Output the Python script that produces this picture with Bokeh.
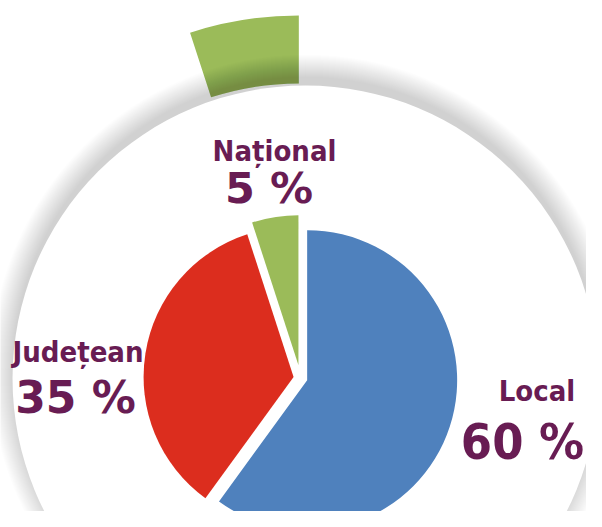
import numpy as np
from bokeh.plotting import figure
from bokeh.models import Range1d
from bokeh.embed import file_html
from bokeh.resources import INLINE
from bokeh.core.properties import value

# ---- data ----
categories = ["Local", "Județean", "Național"]
values = [60, 35, 5]
value_labels = ["60 %", "35 %", "5 %"]
highlight = "Național"

# ---- style / layout ----
colors = ["#4f81bd", "#dc2d1e", "#9bbb59"]
text_color = "#681c53"
cond = "'DejaVu Sans Condensed', 'DejaVu Sans'"
wide = "'DejaVu Sans'"
explode = [7, 7, 13]
PIE_X, PIE_Y, PIE_R = 300, 377.5, 150          # image pixel coords
DISK_X, DISK_Y, DISK_R = 305, 378, 293
RING_IN, RING_OUT, RING_EXPLODE = 284, 352, 10.7
BASELINE_FIX = 0.40   # renderer places alphabetic baseline lower; compensate
# label anchors (image px): name (x, baseline y, size, font), value (x, baseline y, size, font)
label_layout = {
    "Local":    ((536.5, 402, 29, cond), (522, 461, 50, cond)),
    "Județean": ((77.5, 363, 29, cond), (75, 415, 44, wide)),
    "Național": ((274, 162, 29, cond), (268.5, 205, 43, wide)),
}

W, H = 586, 511
p = figure(width=W, height=H, x_range=Range1d(0, W), y_range=Range1d(-H, 0),
           output_backend="svg", toolbar_location=None, min_border=0,
           x_axis_location=None, y_axis_location=None)
p.grid.visible = False
p.outline_line_color = None
p.background_fill_color = "white"
p.border_fill_color = "white"

def Y(y):
    return -y

vals = np.array(values, dtype=float)
ends = np.cumsum(vals) / vals.sum() * 360.0
starts = ends - vals / vals.sum() * 360.0
mids = (starts + ends) / 2

# outer highlighted ring segment
hi = categories.index(highlight)
m = np.radians(mids[hi])
rx = PIE_X + RING_EXPLODE * np.sin(m)
ry = PIE_Y - RING_EXPLODE * np.cos(m)
p.annular_wedge(x=rx, y=Y(ry), inner_radius=RING_IN, outer_radius=RING_OUT,
                start_angle=np.radians(90 - ends[hi]), end_angle=np.radians(90 - starts[hi]),
                fill_color=colors[hi], line_color=None)

# soft shadow of the white disk
shadow_shift = 9
for k in range(22, -1, -1):
    p.circle(x=DISK_X, y=Y(DISK_Y - shadow_shift), radius=DISK_R + k,
             fill_color="black", fill_alpha=0.0095, line_color=None)
p.circle(x=DISK_X, y=Y(DISK_Y), radius=DISK_R, fill_color="white", line_color=None)

# pie slices
for i, cat in enumerate(categories):
    a = np.radians(mids[i])
    cx = PIE_X + explode[i] * np.sin(a)
    cy = PIE_Y - explode[i] * np.cos(a)
    p.wedge(x=cx, y=Y(cy), radius=PIE_R,
            start_angle=np.radians(90 - ends[i]), end_angle=np.radians(90 - starts[i]),
            fill_color=colors[i], line_color=None)

# labels
for i, cat in enumerate(categories):
    for txt, (tx, ty, ts, tf) in zip([cat, value_labels[i]], label_layout[cat]):
        p.text(x=[tx], y=[Y(ty - BASELINE_FIX * ts)], text=[txt], text_font=value(tf),
               text_font_style="bold", text_font_size=f"{ts}px", text_color=text_color,
               text_align="center", text_baseline="alphabetic")

open("out.html", "w").write(file_html(p, INLINE))
